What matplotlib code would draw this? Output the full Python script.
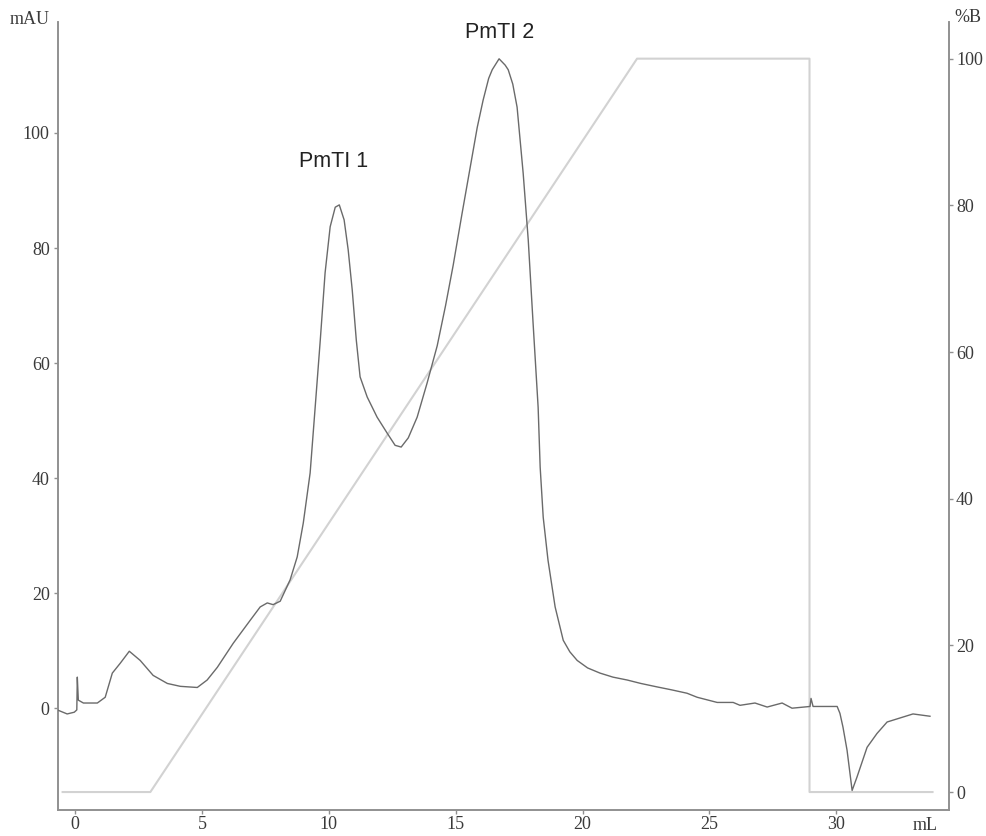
import matplotlib
matplotlib.use("Agg")
import matplotlib.pyplot as plt

# UV absorbance trace (mAU) vs volume (mL)
uv_ml = [-0.71, -0.32, -0.04, 0.06, 0.08, 0.12, 0.32, 0.87, 1.18, 1.46, 1.77, 2.13,
         2.56, 3.07, 3.63, 4.14, 4.81, 5.20, 5.60, 6.23, 6.90, 7.29, 7.57, 7.80,
         8.08, 8.47, 8.75, 8.99, 9.26, 9.46, 9.66, 9.85, 10.05, 10.25, 10.41,
         10.60, 10.76, 10.92, 11.08, 11.23, 11.51, 11.90, 12.30, 12.61, 12.85,
         13.13, 13.48, 13.87, 14.27, 14.60, 14.90, 15.25, 15.57, 15.85, 16.08,
         16.30, 16.44, 16.71, 16.95, 17.07, 17.25, 17.42, 17.66, 17.86, 18.05,
         18.25, 18.33, 18.45, 18.64, 18.92, 19.24, 19.50, 19.79, 20.20, 20.69,
         21.20, 21.76, 22.30, 22.94, 23.50, 24.12, 24.52, 25.31, 25.94, 26.21,
         26.80, 27.28, 27.87, 28.26, 28.97, 29.01, 29.09, 30.04, 30.15, 30.27,
         30.43, 30.63, 30.82, 31.22, 31.61, 32.01, 32.52, 33.03, 33.70]
uv_mau = [-0.3, -1.0, -0.7, -0.3, 5.4, 1.4, 0.9, 0.9, 1.9, 6.1, 7.8, 9.9,
          8.3, 5.7, 4.3, 3.8, 3.6, 4.9, 7.1, 11.3, 15.3, 17.6, 18.3, 18.0,
          18.6, 22.3, 26.3, 32.2, 40.9, 52.4, 64.0, 75.7, 83.7, 87.1, 87.5,
          84.9, 79.7, 72.7, 64.0, 57.6, 54.1, 50.6, 47.8, 45.7, 45.4,
          47.0, 50.6, 56.5, 63.0, 70.0, 77.0, 86.0, 94.0, 101.0, 105.7,
          109.5, 111.0, 112.9, 111.8, 111.0, 108.5, 104.5, 93.0, 81.4, 67.0,
          52.3, 41.9, 33.2, 25.7, 17.6, 11.8, 9.8, 8.3, 7.0, 6.1,
          5.4, 4.9, 4.3, 3.7, 3.2, 2.6, 1.9, 1.0, 1.0, 0.5,
          0.9, 0.2, 0.9, 0.0, 0.3, 1.7, 0.3, 0.3, -0.9, -3.3,
          -7.3, -14.3, -12.0, -6.8, -4.4, -2.4, -1.7, -1.0, -1.4]

# Gradient (%B)
grad_ml = [-0.5, 2.96, 22.15, 28.95, 28.95, 33.8]
grad_pct = [0, 0, 100, 100, 0, 0]

x_ticks = [0, 5, 10, 15, 20, 25, 30]
left_ticks = [0, 20, 40, 60, 80, 100]
right_ticks = [0, 20, 40, 60, 80, 100]

peak_labels = ["PmTI 1", "PmTI 2"]
peak_pos = [(10.2, 95.0), (16.75, 117.5)]

serif = ["Liberation Serif", "DejaVu Serif"]
tick_col = "#3a3a3a"
spine_col = "#909090"
fs = 13

fig = plt.figure(figsize=(9.87, 8.36), dpi=100)
ax = fig.add_axes([0.0588, 0.0311, 0.9027, 0.9426])
ax2 = ax.twinx()

ax2.plot(grad_ml, grad_pct, color="#d2d2d2", lw=1.5, zorder=1)
ax.plot(uv_ml, uv_mau, color="#6a6a6a", lw=1.0, zorder=3)
ax.set_zorder(ax2.get_zorder() + 1)
ax.patch.set_visible(False)

ax.set_xlim(-0.68, 34.45)
ax.set_ylim(-17.7, 119.3)
ax2.set_ylim(-2.45, 105.0)

for a in (ax, ax2):
    a.spines["top"].set_visible(False)
    for s in ("left", "right", "bottom"):
        a.spines[s].set_color(spine_col)
        a.spines[s].set_linewidth(1.2)

ax.set_xticks(x_ticks)
ax.set_yticks(left_ticks)
ax2.set_yticks(right_ticks)
ax.tick_params(axis="both", colors=spine_col, length=3, width=1, labelcolor=tick_col,
               labelsize=fs)
ax2.tick_params(axis="y", colors=spine_col, length=3, width=1, labelcolor=tick_col,
                labelsize=fs)
for lab in ax.get_xticklabels() + ax.get_yticklabels() + ax2.get_yticklabels():
    lab.set_family(serif)
ax.tick_params(axis="y", pad=3)
ax.tick_params(axis="x", pad=1.5)
ax2.tick_params(axis="y", pad=2)

fig.text(30 / 987, 1 - 20 / 836, "mAU", family=serif, fontsize=fs, color=tick_col,
         ha="center", va="center")
fig.text(968 / 987, 1 - 18 / 836, "%B", family=serif, fontsize=fs, color=tick_col,
         ha="center", va="center")
fig.text(925 / 987, 1 - 825 / 836, "mL", family=serif, fontsize=fs, color=tick_col,
         ha="center", va="center")

for lab, (px, py) in zip(peak_labels, peak_pos):
    ax.text(px, py, lab, family=["Liberation Sans", "DejaVu Sans"], fontsize=15.5,
            color="#222222", ha="center", va="center")

fig.savefig("out.png", dpi=100, facecolor="white")
